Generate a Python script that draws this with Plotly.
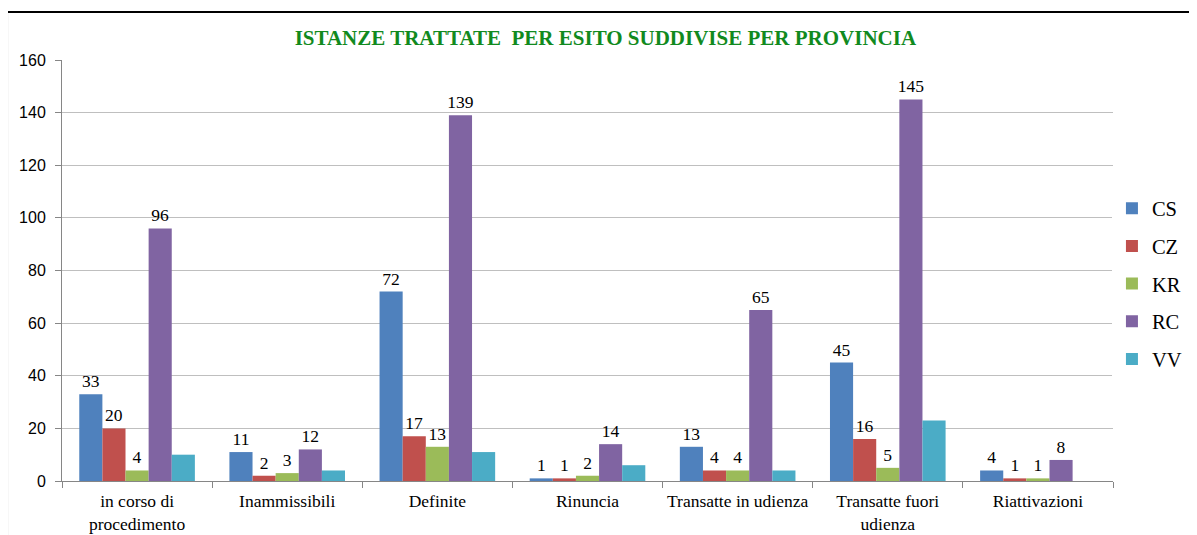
import plotly.graph_objects as go

categories = ["in corso di<br>procedimento", "Inammissibili", "Definite", "Rinuncia",
              "Transatte in udienza", "Transatte fuori<br>udienza", "Riattivazioni"]
cs = [33, 11, 72, 1, 13, 45, 4]
cz = [20, 2, 17, 1, 4, 16, 1]
kr = [4, 3, 13, 2, 4, 5, 1]
rc = [96, 12, 139, 14, 65, 145, 8]
vv = [10, 4, 11, 6, 4, 23, 0]

series = [("CS", cs, "#4F81BD", True), ("CZ", cz, "#C0504D", True),
          ("KR", kr, "#9BBB59", True), ("RC", rc, "#8064A2", True),
          ("VV", vv, "#4BACC6", False)]

SERIF = "Liberation Serif, Times New Roman, DejaVu Serif, serif"

fig = go.Figure()
for name, vals, color, lab in series:
    fig.add_trace(go.Bar(
        x=categories, y=vals, name=name, legendgroup=name,
        marker=dict(color=color, line=dict(width=0)),
        text=[str(v) for v in vals] if lab else None,
        textposition="outside" if lab else "none",
        textfont=dict(family=SERIF, size=17.5, color="#000"),
        constraintext="none", cliponaxis=False,
    ))

# outer chart frame
fig.add_shape(type="rect", xref="paper", yref="paper",
              x0=-0.0523, x1=1.3, y0=-0.4, y1=1.114,
              line=dict(color="black", width=2), layer="below")

fig.update_layout(
    width=1197, height=535,
    margin=dict(l=54, r=92, t=52, b=62, autoexpand=False),
    paper_bgcolor="white", plot_bgcolor="white",
    barmode="group", bargap=0.23, bargroupgap=0,
    title=dict(text="<b>ISTANZE TRATTATE  PER ESITO SUDDIVISE PER PROVINCIA</b>",
               x=0.517, xref="paper", xanchor="center",
               y=1 - 30 / 535, yref="container", yanchor="middle",
               font=dict(family=SERIF, size=21, color="#118A1E")),
    xaxis=dict(showgrid=False, ticks="outside", tickson="boundaries", ticklen=6,
               tickcolor="#868686", showline=True, linecolor="#868686", linewidth=1,
               ticklabelstandoff=4, tickangle=0, automargin=False,
               tickfont=dict(family=SERIF, size=17.5, color="#000")),
    yaxis=dict(range=[0, 160], dtick=20, showgrid=True, gridcolor="#BFBFBF",
               ticks="outside", ticklen=6, tickcolor="#868686",
               showline=True, linecolor="#868686", linewidth=1,
               ticklabelstandoff=6, automargin=False,
               tickfont=dict(family="Liberation Sans, Arial, sans-serif", size=16, color="#000"),
               zeroline=False),
    legend=dict(x=0.999, xanchor="left", y=0.468, yanchor="middle",
                font=dict(family=SERIF, size=20.5, color="#000"),
                tracegroupgap=8, itemwidth=30),
    showlegend=True,
)

fig.write_html("out.html")
